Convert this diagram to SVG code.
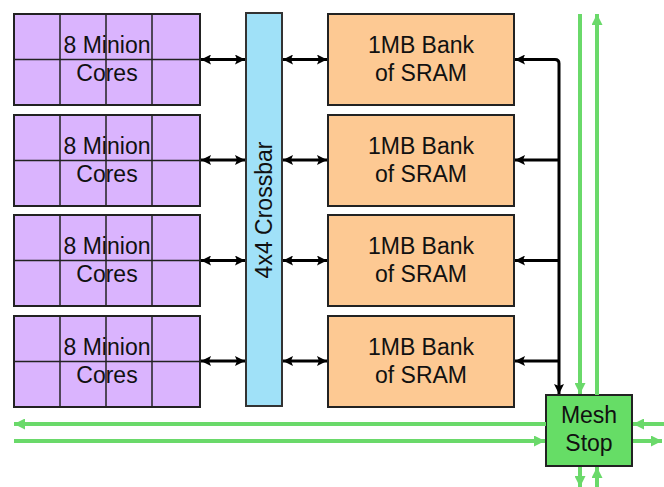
<svg xmlns="http://www.w3.org/2000/svg" width="664" height="487" viewBox="0 0 664 487">
  <defs>
    <marker id="blk" viewBox="0 0 10 10" refX="10" refY="5" markerWidth="10" markerHeight="10" markerUnits="userSpaceOnUse" orient="auto-start-reverse">
      <path d="M0,0 L10,5 L0,10 L2,5 Z" fill="#000"/>
    </marker>
    <marker id="grn" viewBox="0 0 11 11" refX="11" refY="5.5" markerWidth="11" markerHeight="11" markerUnits="userSpaceOnUse" orient="auto-start-reverse">
      <path d="M0,0 L11,5.5 L0,11 Z" fill="#6ad96a"/>
    </marker>
    <g id="cores">
      <rect x="0" y="0" width="186" height="91" class="core"/>
      <path d="M46,0V91M92,0V91M138,0V91M0,45.5H186" class="grid"/>
    </g>
  </defs>
  <style>
    .core { fill: #dab4fe; stroke: #222; stroke-width: 2; }
    .grid { fill: none; stroke: #222; stroke-width: 1.5; }
    .sram { fill: #fdc993; stroke: #222; stroke-width: 2; }
    .xbar { fill: #a0e1f8; stroke: #333; stroke-width: 2; }
    .mesh { fill: #66dd66; stroke: #222; stroke-width: 2; }
    .lbl { font-family: "Liberation Sans", Arial, sans-serif; font-size: 23px; fill: #111; text-anchor: middle; }
    .blk { fill: none; stroke: #000; stroke-width: 3; }
    .grnl { fill: none; stroke: #6ad96a; stroke-width: 4; }
  </style>

  <!-- core clusters -->
  <g id="cores1"><use href="#cores" x="14" y="14"/><text class="lbl" x="107" y="53">8 Minion</text><text class="lbl" x="107" y="81">Cores</text></g>
  <g id="cores2"><use href="#cores" x="14" y="115"/><text class="lbl" x="107" y="154">8 Minion</text><text class="lbl" x="107" y="182">Cores</text></g>
  <g id="cores3"><use href="#cores" x="14" y="215"/><text class="lbl" x="107" y="254">8 Minion</text><text class="lbl" x="107" y="282">Cores</text></g>
  <g id="cores4"><use href="#cores" x="14" y="316"/><text class="lbl" x="107" y="355">8 Minion</text><text class="lbl" x="107" y="383">Cores</text></g>

  <!-- crossbar -->
  <g id="crossbar">
    <rect x="246" y="13" width="36" height="393" class="xbar"/>
    <text class="lbl" transform="translate(272,210) rotate(-90)">4x4 Crossbar</text>
  </g>

  <!-- SRAM banks -->
  <g id="sram1"><rect x="328" y="14" width="186" height="91" class="sram"/><text class="lbl" x="421" y="53">1MB Bank</text><text class="lbl" x="421" y="81">of SRAM</text></g>
  <g id="sram2"><rect x="328" y="115" width="186" height="91" class="sram"/><text class="lbl" x="421" y="154">1MB Bank</text><text class="lbl" x="421" y="182">of SRAM</text></g>
  <g id="sram3"><rect x="328" y="215" width="186" height="91" class="sram"/><text class="lbl" x="421" y="254">1MB Bank</text><text class="lbl" x="421" y="282">of SRAM</text></g>
  <g id="sram4"><rect x="328" y="316" width="186" height="91" class="sram"/><text class="lbl" x="421" y="355">1MB Bank</text><text class="lbl" x="421" y="383">of SRAM</text></g>

  <!-- mesh stop -->
  <g id="meshstop">
    <rect x="546" y="395" width="86" height="71" class="mesh"/>
    <text class="lbl" x="589" y="423">Mesh</text>
    <text class="lbl" x="589" y="451">Stop</text>
  </g>

  <g id="connectors">
    <!-- cores to crossbar -->
    <path class="blk" d="M201,59.5H245" marker-start="url(#blk)" marker-end="url(#blk)"/>
    <path class="blk" d="M201,160H245" marker-start="url(#blk)" marker-end="url(#blk)"/>
    <path class="blk" d="M201,260.5H245" marker-start="url(#blk)" marker-end="url(#blk)"/>
    <path class="blk" d="M201,361H245" marker-start="url(#blk)" marker-end="url(#blk)"/>
    <!-- crossbar to SRAM -->
    <path class="blk" d="M283,59.5H327" marker-start="url(#blk)" marker-end="url(#blk)"/>
    <path class="blk" d="M283,160H327" marker-start="url(#blk)" marker-end="url(#blk)"/>
    <path class="blk" d="M283,260.5H327" marker-start="url(#blk)" marker-end="url(#blk)"/>
    <path class="blk" d="M283,361H327" marker-start="url(#blk)" marker-end="url(#blk)"/>
    <!-- SRAM bus to mesh stop -->
    <path class="blk" d="M515,59.5H555Q559,59.5 559,63.5V394" marker-start="url(#blk)" marker-end="url(#blk)"/>
    <path class="blk" d="M559,160H515" marker-end="url(#blk)"/>
    <path class="blk" d="M559,260.5H515" marker-end="url(#blk)"/>
    <path class="blk" d="M559,361H515" marker-end="url(#blk)"/>
    <!-- mesh links -->
    <path class="grnl" d="M580,14V394" marker-end="url(#grn)"/>
    <path class="grnl" d="M597,395V14" marker-end="url(#grn)"/>
    <path class="grnl" d="M580,467V487" marker-end="url(#grn)"/>
    <path class="grnl" d="M597,487V467" marker-end="url(#grn)"/>
    <path class="grnl" d="M664,424H633" marker-end="url(#grn)"/>
    <path class="grnl" d="M633,441H662" marker-end="url(#grn)"/>
    <path class="grnl" d="M546,424H14" marker-end="url(#grn)"/>
    <path class="grnl" d="M14,441H545" marker-end="url(#grn)"/>
  </g>
</svg>
